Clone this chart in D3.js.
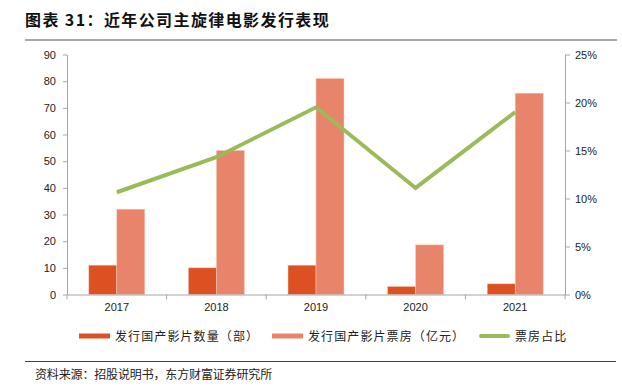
<!DOCTYPE html>
<html lang="zh">
<head>
    <meta charset="UTF-8">
    <title>近年公司主旋律电影发行表现</title>
    <style>
        body {
            margin: 0;
            background: #fff;
        }

        text {
            font-family: "Liberation Sans", Arial, sans-serif;
        }

        .cn {
            font-family: "Noto Sans CJK SC", sans-serif;
        }

        .axis path, .axis line {
            stroke: #a6a6a6;
        }

        .axis text {
            font-size: 11px;
            fill: #222;
        }
    </style>
    <script src="https://cdn.jsdelivr.net/npm/d3@7"></script>
</head>
<body>
<svg class="chart" width="622" height="390"></svg>
<script>
    const years = ['2017', '2018', '2019', '2020', '2021'],
        filmCount = [11, 10, 11, 3, 4],          // 发行国产影片数量（部）
        boxOffice = [32, 54, 81, 18.6, 75.5],   // 发行国产影片票房（亿元）
        boxShare = [10.65, 14.3, 19.5, 11.1, 19.0], // 票房占比 %
        leftTicks = [0, 10, 20, 30, 40, 50, 60, 70, 80, 90],
        rightTicks = [0, 5, 10, 15, 20, 25],
        seriesNames = ['发行国产影片数量（部）', '发行国产影片票房（亿元）', '票房占比'];

    const colors = ['#dd5022', '#e8846a', '#9bbb59'],
        plot = {left: 67, right: 565, top: 54.5, bottom: 294.5};

    const svg = d3.select('.chart');

    // 标题
    svg.append('text')
        .attr('class', 'cn')
        .attr('x', 25).attr('y', 26)
        .style('font-size', '16px')
        .style('font-weight', 'bold')
        .style('letter-spacing', '1.4px')
        .attr('fill', '#111')
        .text('图表 31：近年公司主旋律电影发行表现');

    svg.append('line')
        .attr('x1', 25).attr('x2', 617)
        .attr('y1', 40).attr('y2', 40)
        .attr('stroke', '#555').attr('stroke-width', 1.2);

    /**
     * 比例尺
     */
    let x = d3.scaleBand().domain(years).range([plot.left, plot.right]),
        xSub = d3.scaleBand().domain([0, 1]).range([0, x.bandwidth()]).paddingOuter(0.78),
        yLeft = d3.scaleLinear().domain([0, 90]).range([plot.bottom, plot.top]),
        yRight = d3.scaleLinear().domain([0, 25]).range([plot.bottom, plot.top]);

    // 柱子
    [filmCount, boxOffice].forEach((arr, k) => {
        svg.append('g').selectAll('rect')
            .data(arr).enter().append('rect')
            .attr('x', (d, i) => x(years[i]) + xSub(k))
            .attr('width', xSub.bandwidth())
            .attr('y', d => yLeft(d))
            .attr('height', d => yLeft(0) - yLeft(d))
            .attr('fill', colors[k])
            .attr('stroke', '#f6c9b8')
            .attr('stroke-width', 0.5);
    });

    // 折线
    let line = d3.line()
        .x((d, i) => x(years[i]) + x.bandwidth() / 2)
        .y(d => yRight(d));

    svg.append('path')
        .datum(boxShare)
        .attr('d', line)
        .attr('fill', 'none')
        .attr('stroke', colors[2])
        .attr('stroke-width', 4);

    /**
     * 坐标轴
     */
    svg.append('g')
        .attr('class', 'axis')
        .attr('transform', 'translate(' + plot.left + ',0)')
        .call(d3.axisLeft(yLeft).tickValues(leftTicks).tickSize(4).tickSizeOuter(0).tickPadding(7));

    svg.append('g')
        .attr('class', 'axis')
        .attr('transform', 'translate(' + plot.right + ',0)')
        .call(d3.axisRight(yRight).tickValues(rightTicks).tickSize(5).tickSizeOuter(0).tickPadding(5)
            .tickFormat(d => d + '%'));

    let xAxis = svg.append('g')
        .attr('class', 'axis')
        .attr('transform', 'translate(0,' + plot.bottom + ')')
        .call(d3.axisBottom(x).tickSize(0).tickPadding(9));

    // x轴刻度在类别之间
    xAxis.selectAll('.bound')
        .data(years.map(y => x(y)).concat([x.range()[1]]))
        .enter().append('line')
        .attr('class', 'bound')
        .attr('x1', d => d).attr('x2', d => d)
        .attr('y1', 0).attr('y2', 5);

    /**
     * 图例
     */
    const legendX = [79, 272, 479];
    let legend = svg.append('g').selectAll('g')
        .data(seriesNames).enter().append('g')
        .attr('transform', (d, i) => 'translate(' + legendX[i] + ',336)');

    legend.append('rect')
        .attr('x', 0).attr('y', (d, i) => i < 2 ? -2.5 : -2)
        .attr('width', 31).attr('height', (d, i) => i < 2 ? 5 : 4)
        .attr('rx', (d, i) => i < 2 ? 0 : 2)
        .attr('fill', (d, i) => colors[i]);

    legend.append('text')
        .attr('class', 'cn')
        .attr('x', 36).attr('y', 4.5)
        .style('font-size', '12px')
        .style('letter-spacing', '1.1px')
        .attr('fill', '#222')
        .text(d => d);

    // 底部
    svg.append('line')
        .attr('x1', 25).attr('x2', 616)
        .attr('y1', 361.5).attr('y2', 361.5)
        .attr('stroke', '#444').attr('stroke-width', 1);

    svg.append('text')
        .attr('class', 'cn')
        .attr('x', 35).attr('y', 379)
        .style('font-size', '12px')
        .style('letter-spacing', '-0.15px')
        .attr('fill', '#222')
        .text('资料来源：招股说明书，东方财富证券研究所');
</script>
</body>
</html>
